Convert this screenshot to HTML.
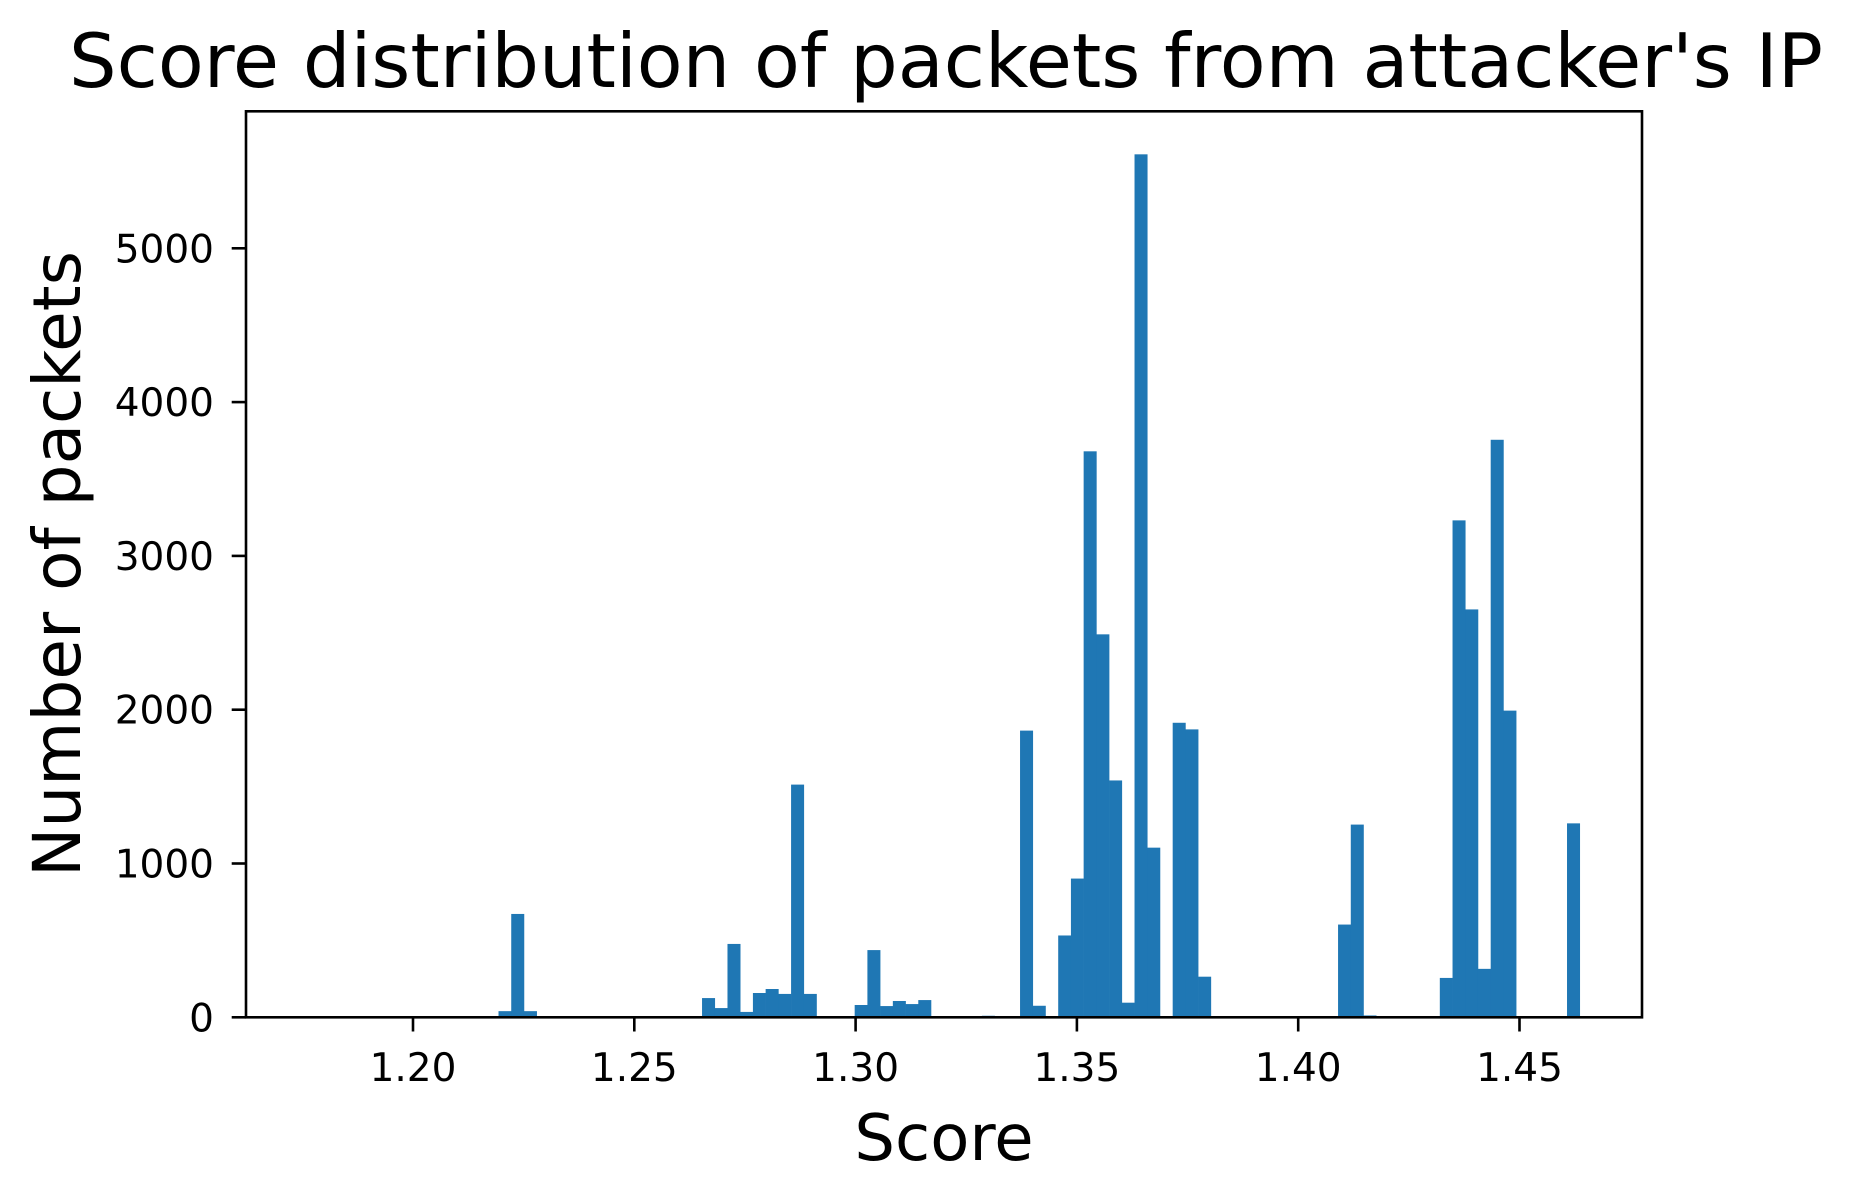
<!DOCTYPE html>
<html><head><meta charset="utf-8"><style>
html,body{margin:0;padding:0;background:#fff;}
svg{display:block;font-family:"DejaVu Sans","Liberation Sans",sans-serif;}
</style></head><body>
<svg id="chart" width="1850" height="1197" viewBox="0 0 1850 1197" xmlns="http://www.w3.org/2000/svg">
<rect width="1850" height="1197" fill="#fff"/>
<text x="946" y="87" font-size="75" text-anchor="middle" textLength="1754" lengthAdjust="spacingAndGlyphs">Score distribution of packets from attacker's IP</text>
<g id="bars"></g>
<g id="xticks"></g>
<g id="yticks"></g>
<rect x="246" y="111.3" width="1396" height="906" fill="none" stroke="#000" stroke-width="2.6"/>
<text x="944" y="1160" font-size="64" text-anchor="middle">Score</text>
<text transform="translate(80,564) rotate(-90)" font-size="66" text-anchor="middle">Number of packets</text>
</svg>
<script>
const binMin = 1.17621;
const binWidth = 0.002874;
const binIndex = [15,16,17,31,32,33,34,35,36,37,38,39,43,44,45,46,47,48,53,56,57,59,60,61,62,63,64,65,66,68,69,70,81,82,83,89,90,91,92,93,94,99];
const counts = [40,672,40,125,60,477,35,158,184,152,1513,152,80,437,73,106,86,112,10,1864,75,532,902,3680,2490,1540,95,5611,1103,1915,1872,264,603,1253,12,256,3231,2652,315,3755,1994,1261];
const xTicks = [1.20,1.25,1.30,1.35,1.40,1.45];
const xTickLabels = ["1.20","1.25","1.30","1.35","1.40","1.45"];
const yTicks = [0,1000,2000,3000,4000,5000];
const yTickLabels = ["0","1000","2000","3000","4000","5000"];

const NS = "http://www.w3.org/2000/svg";
function xs(v){ return 634.3 + (v - 1.25) * 4426; }
function ys(v){ return 1017.3 - v * 0.1538; }

const gb = document.getElementById('bars');
binIndex.forEach((bi, i) => {
  const x0 = xs(binMin + bi * binWidth), x1 = xs(binMin + (bi + 1) * binWidth);
  const r = document.createElementNS(NS, 'rect');
  r.setAttribute('x', x0);
  r.setAttribute('width', x1 - x0 + 0.3);
  r.setAttribute('y', ys(counts[i]));
  r.setAttribute('height', ys(0) - ys(counts[i]));
  r.setAttribute('fill', '#1f77b4');
  
  
  gb.appendChild(r);
});

const gx = document.getElementById('xticks');
xTicks.forEach((t, i) => {
  const x = xs(t);
  const l = document.createElementNS(NS, 'line');
  l.setAttribute('x1', x); l.setAttribute('x2', x);
  l.setAttribute('y1', 1017.3); l.setAttribute('y2', 1031.5);
  l.setAttribute('stroke', '#000'); l.setAttribute('stroke-width', '2.6');
  
  
  gx.appendChild(l);
  const tx = document.createElementNS(NS, 'text');
  tx.setAttribute('x', x); tx.setAttribute('y', 1081);
  tx.setAttribute('font-size', '39'); tx.setAttribute('text-anchor', 'middle');
  tx.textContent = xTickLabels[i];
  
  
  gx.appendChild(tx);
});

const gy = document.getElementById('yticks');
yTicks.forEach((t, i) => {
  const y = ys(t);
  const l = document.createElementNS(NS, 'line');
  l.setAttribute('x1', 231.7); l.setAttribute('x2', 246);
  l.setAttribute('y1', y); l.setAttribute('y2', y);
  l.setAttribute('stroke', '#000'); l.setAttribute('stroke-width', '2.6');
  
  
  gy.appendChild(l);
  const tx = document.createElementNS(NS, 'text');
  tx.setAttribute('x', 214); tx.setAttribute('y', y + 14);
  tx.setAttribute('font-size', '39'); tx.setAttribute('text-anchor', 'end');
  tx.textContent = yTickLabels[i];
  
  
  gy.appendChild(tx);
});
</script>
</body></html>
